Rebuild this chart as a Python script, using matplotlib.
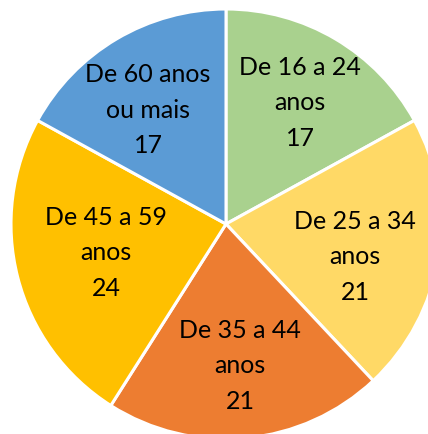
import matplotlib.pyplot as plt

labels = ['De 16 a 24\nanos', 'De 25 a 34\nanos', 'De 35 a 44\nanos',
          'De 45 a 59\nanos', 'De 60 anos\nou mais']
values = [17, 21, 21, 24, 17]
colors = ['#A9D18E', '#FFD966', '#ED7D31', '#FFC000', '#5B9BD5']

# label centres, image pixels (x, y from top)
label_pos = [(300, 103), (355, 257), (240, 366), (106, 253), (148, 110)]

W, H = 428, 435
fig = plt.figure(figsize=(W / 100, H / 100), dpi=100)
ax = fig.add_axes([0, 0, 1, 1])

cx, cy, r = 226, H - 225, 215
ax.pie(values, colors=colors, startangle=90, counterclock=False,
       center=(cx, cy), radius=r, frame=True,
       wedgeprops=dict(edgecolor='white', linewidth=2.2))

for lab, v, (x, y) in zip(labels, values, label_pos):
    ax.text(x, H - y, lab + '\n' + str(v), ha='center', va='center',
            fontsize=18, family='Lato', linespacing=1.65, color='black')

ax.set_xlim(0, W)
ax.set_ylim(0, H)
ax.set_aspect('equal')
ax.axis('off')

fig.savefig('out.png', dpi=100)
